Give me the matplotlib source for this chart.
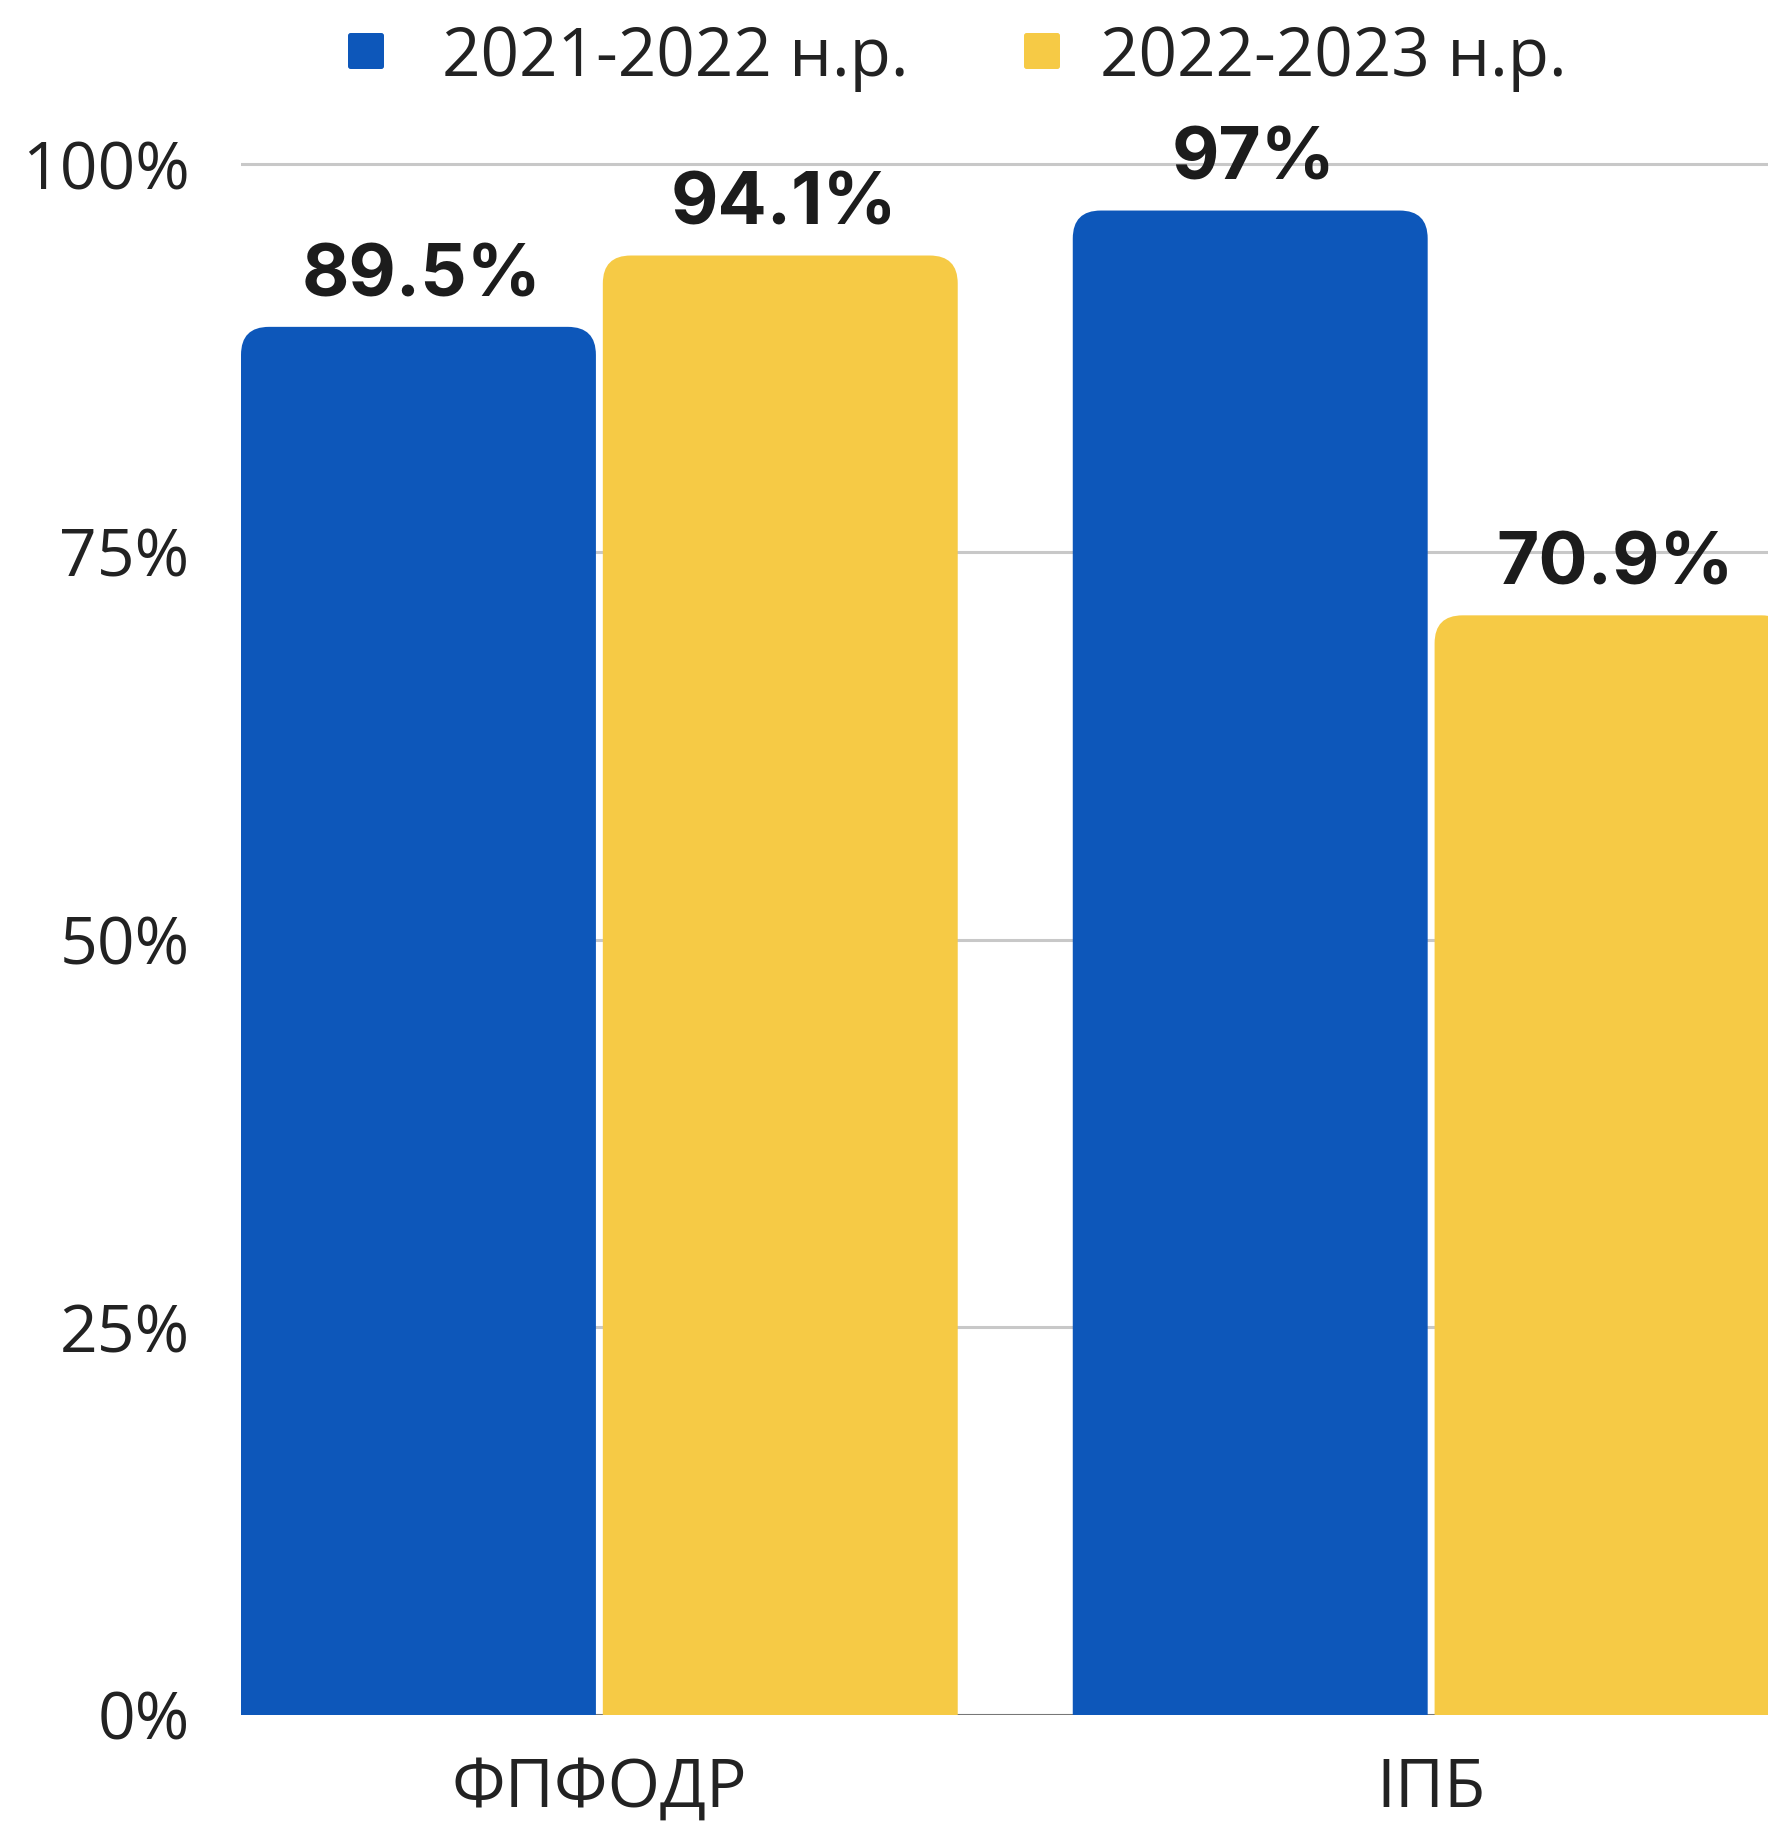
import matplotlib
matplotlib.use('Agg')
import matplotlib.pyplot as plt
from matplotlib.patches import FancyBboxPatch
import numpy as np

# ---- data ----
categories = ['ФПФОДР', 'ІПБ']
series_names = ['2021-2022 н.р.', '2022-2023 н.р.']
values_2021 = [89.5, 97.0]
values_2022 = [94.1, 70.9]
value_labels_2021 = ['89.5%', '97%']
value_labels_2022 = ['94.1%', '70.9%']
y_ticks = [0, 25, 50, 75, 100]
y_tick_labels = ['0%', '25%', '50%', '75%', '100%']

colors = ['#0D57BA', '#F6CA45']
text_color = '#222222'

W, H, DPI = 1768, 1827, 100
fig = plt.figure(figsize=(W / DPI, H / DPI), dpi=DPI)

ax_left, ax_right, ax_bottom = 241, 1768, 1715
ymax = 108
px_per_y = 15.51
ax_h = ymax * px_per_y
ax = fig.add_axes([ax_left / W, (H - ax_bottom) / H, (ax_right - ax_left) / W, ax_h / H])

width = 0.4267
off = 0.2175
x = np.arange(len(categories))
xlim = (-off - width / 2, 1.405)
ax.set_xlim(*xlim)
ax.set_ylim(0, ymax)

bars1 = ax.bar(x - off, values_2021, width, color=colors[0], label=series_names[0])
bars2 = ax.bar(x + off, values_2022, width, color=colors[1], label=series_names[1])

# convert to rounded-top bars
px_per_x = (ax_right - ax_left) / (xlim[1] - xlim[0])
aspect = px_per_x / px_per_y
R = 28  # px
r = R / px_per_x
ry = R / px_per_y
for bars in (bars1, bars2):
    for rect in bars:
        rect.set_visible(False)
        bx, bw, bh = rect.get_x(), rect.get_width(), rect.get_height()
        p = FancyBboxPatch((bx, -ry), bw, bh + ry,
                           boxstyle=f"round,pad=0,rounding_size={r}",
                           mutation_aspect=aspect,
                           facecolor=rect.get_facecolor(), edgecolor='none',
                           zorder=2)
        ax.add_patch(p)

# value labels
for bars, labels in ((bars1, value_labels_2021), (bars2, value_labels_2022)):
    for rect, lbl in zip(bars, labels):
        ax.annotate(lbl, (rect.get_x() + rect.get_width() / 2, rect.get_height()),
                    xytext=(2.5, 22), textcoords='offset points',
                    ha='center', va='baseline', fontsize=52.5, fontweight='bold',
                    family=['Inter', 'DejaVu Sans'], color='#1C1C1C', zorder=4)

# axes styling
for s in ax.spines.values():
    s.set_visible(False)
ax.set_yticks(y_ticks)
ax.set_yticklabels(y_tick_labels)
ax.yaxis.grid(True, color='#C8C8C8', linewidth=2.2)
ax.set_axisbelow(True)
ax.axhline(0, color='#777777', linewidth=2.2, zorder=1)
ax.set_xticks(x)
ax.set_xticklabels(categories)
ax.tick_params(axis='y', length=0, labelsize=47.5, labelcolor=text_color, pad=37)
ax.tick_params(axis='x', length=0, labelsize=48.5, labelcolor=text_color, pad=29)
for t in ax.get_xticklabels() + ax.get_yticklabels():
    t.set_family(['Open Sans', 'DejaVu Sans'])

# legend (drawn manually to match spacing)
legend_sq_x = [348, 1024]
legend_txt_x = [442, 1100]
sq = 36
for c, name, sx, tx in zip(colors, series_names, legend_sq_x, legend_txt_x):
    fig.add_artist(FancyBboxPatch((sx / W, 1 - (51 + sq / 2) / H), sq / W, sq / H,
                                  boxstyle="round,pad=0,rounding_size=0.0015",
                                  mutation_aspect=W / H,
                                  transform=fig.transFigure,
                                  facecolor=c, edgecolor='none'))
    fig.text(tx / W, 1 - 76 / H, name, ha='left', va='baseline', fontsize=48.5,
             family=['Open Sans', 'DejaVu Sans'], color=text_color)

fig.savefig('out.png', dpi=DPI)
